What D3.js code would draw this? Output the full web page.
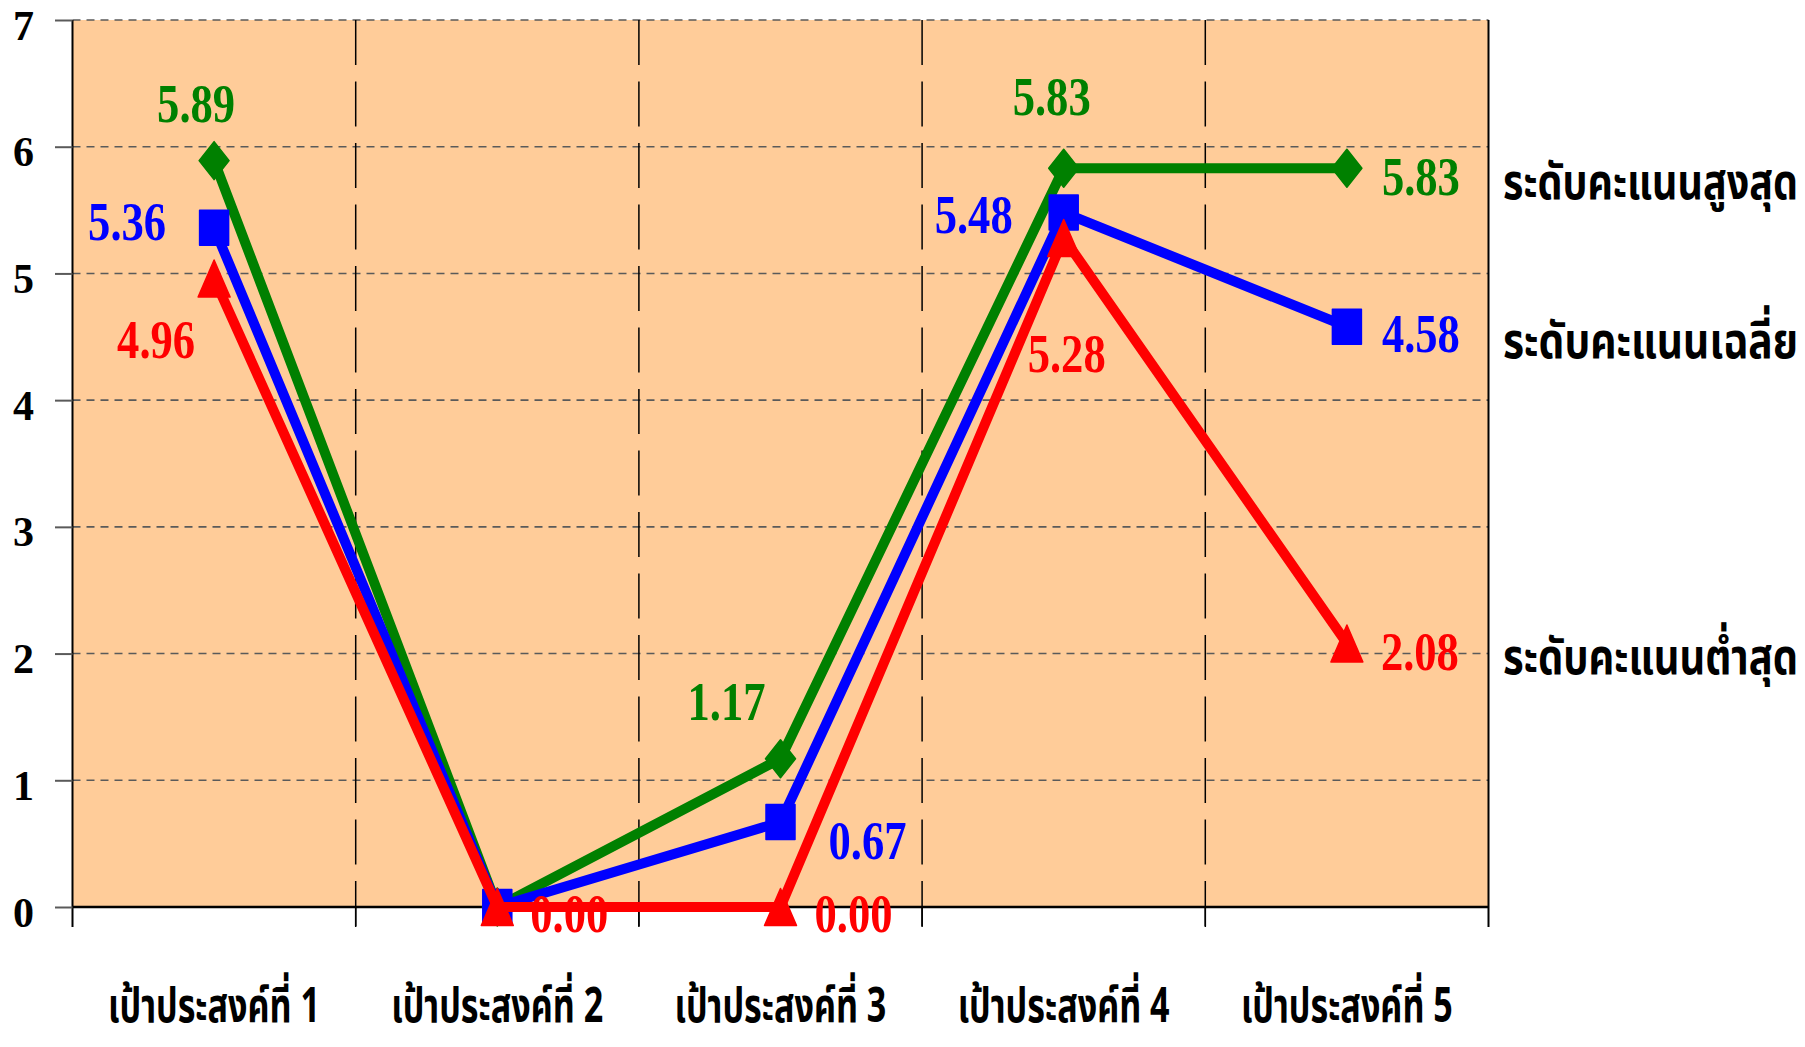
<!DOCTYPE html>
<html><head><meta charset="utf-8">
<script src="https://cdn.jsdelivr.net/npm/d3@7/dist/d3.min.js"></script>
<style>body{margin:0;background:#fff;overflow:hidden}</style>
</head><body>
<svg id="c" width="1805" height="1047"></svg>
<script>
// ---- data ----
const categories = ["เป้าประสงค์ที่ 1", "เป้าประสงค์ที่ 2", "เป้าประสงค์ที่ 3", "เป้าประสงค์ที่ 4", "เป้าประสงค์ที่ 5"];
const seriesNames = ["ระดับคะแนนสูงสุด", "ระดับคะแนนเฉลี่ย", "ระดับคะแนนต่ำสุด"];
const maxValues  = [5.89, 0.00, 1.17, 5.83, 5.83];
const meanValues = [5.36, 0.00, 0.67, 5.48, 4.58];
const minValues  = [4.96, 0.00, 0.00, 5.28, 2.08];
const yTicks = [0, 1, 2, 3, 4, 5, 6, 7];

// ---- styling / label placement (not data) ----
const colors = ["#008000", "#0000FF", "#FF0000"];
const shapes = ["diamond", "square", "triangle"];
// label offsets relative to the point: [dx (left edge), dy (baseline)], null = hidden
const labelOffsets = [
  [[-57, -39], null, [-93, -39], [-51, -53], [35, 27]],
  [[-126, 12], null, [48, 37], [-129, 20], [35, 25]],
  [[-97, 80], [33, 25], [34, 25], [-36, 134], [34, 27]]
];

const svg = d3.select("#c");
const L = 72.5, R = 1488.5, T = 20, B = 907;
const x = d3.scaleBand().domain(categories).range([L, R]).paddingInner(0).paddingOuter(0);
const y = d3.scaleLinear().domain([0, 7]).range([B, T]);
const cx = c => x(c) + x.bandwidth() / 2;

// place a text at (px,py) (start anchor, baseline) squeezed horizontally to width w
function fit(sel, w, px, py) {
  sel.each(function (d, i) {
    const n = d3.select(this);
    n.attr("x", 0).attr("y", 0).attr("dy", null).attr("text-anchor", "start");
    const nat = this.getComputedTextLength();
    const s = w / nat;
    n.attr("transform", `translate(${px(d, i)},${py(d, i)}) scale(${s},1)`);
  });
}

// plot background
svg.append("rect").attr("x", L).attr("y", T).attr("width", R - L).attr("height", B - T).attr("fill", "#FFCC99");

// horizontal gridlines
svg.append("g").selectAll("line").data(yTicks.filter(d => d > 0)).join("line")
  .attr("x1", L).attr("x2", R).attr("y1", d => y(d)).attr("y2", d => y(d))
  .attr("stroke", "#5a5a5a").attr("stroke-width", 1.6).attr("stroke-dasharray", "8,6");

// vertical gridlines at category boundaries
const bounds = categories.slice(1).map(c => x(c));
svg.append("g").selectAll("line").data(bounds).join("line")
  .attr("x1", d => d).attr("x2", d => d).attr("y1", T).attr("y2", B + 20)
  .attr("stroke", "#000").attr("stroke-width", 1.5).attr("stroke-dasharray", "45,16.5");
svg.append("g").selectAll("line").data(bounds).join("line")
  .attr("x1", d => d).attr("x2", d => d).attr("y1", B).attr("y2", B + 20)
  .attr("stroke", "#000").attr("stroke-width", 1.5);

// left & right borders, bottom axis line
svg.append("line").attr("x1", L).attr("x2", L).attr("y1", T).attr("y2", B + 20).attr("stroke", "#000").attr("stroke-width", 2);
svg.append("line").attr("x1", R).attr("x2", R).attr("y1", T).attr("y2", B + 20).attr("stroke", "#000").attr("stroke-width", 2);
svg.append("line").attr("x1", L).attr("x2", R).attr("y1", B).attr("y2", B).attr("stroke", "#000").attr("stroke-width", 2.5);

// y axis
const yAxis = svg.append("g").attr("transform", `translate(${L},0)`)
  .call(d3.axisLeft(y).tickValues(yTicks).tickSize(17.5).tickPadding(21).tickFormat(d3.format("d")));
yAxis.select(".domain").remove();
yAxis.selectAll(".tick line").attr("stroke", "#5a5a5a").attr("stroke-width", 2);
yAxis.selectAll(".tick text").attr("dy", 19)
  .attr("font-family", "'Liberation Serif','Times New Roman',serif").attr("font-weight", "bold")
  .attr("font-size", 42).attr("fill", "#000");

// x axis (category labels)
const xAxis = svg.append("g").attr("transform", `translate(0,${B})`)
  .call(d3.axisBottom(x).tickSize(0).tickPadding(0));
xAxis.select(".domain").remove();
xAxis.selectAll(".tick text")
  .attr("font-family", "'Noto Sans Thai','Noto Serif Thai','Loma','Garuda','Norasi','Noto Sans',sans-serif")
  .attr("font-weight", "bold").attr("font-size", 48).attr("fill", "#000")
  .call(fit, 212, () => -106, () => 115);

// series
const series = [maxValues, meanValues, minValues];
const line = d3.line().x((d, i) => cx(categories[i])).y(d => y(d));
function markerPath(shape) {
  if (shape === "diamond") return "M0,-19L15,0L0,19L-15,0Z";
  if (shape === "square") return "M-14.5,-17.5H14.5V17.5H-14.5Z";
  return "M0,-18.5L16,18.5H-16Z";
}
series.forEach((vals, s) => {
  const g = svg.append("g");
  g.append("path").attr("d", line(vals)).attr("fill", "none")
    .attr("stroke", colors[s]).attr("stroke-width", 10).attr("stroke-linejoin", "round");
  g.selectAll("path.m").data(vals).join("path").attr("class", "m")
    .attr("transform", (d, i) => `translate(${cx(categories[i])},${y(d)})`)
    .attr("d", markerPath(shapes[s])).attr("fill", colors[s])
    .attr("stroke", colors[s]).attr("stroke-width", 1.5).attr("stroke-linejoin", "round");
});

// data labels
series.forEach((vals, s) => {
  svg.append("g").selectAll("text").data(vals.map((v, i) => ({ v, i, o: labelOffsets[s][i] })).filter(d => d.o))
    .join("text")
    .attr("font-family", "'Liberation Serif','Times New Roman',serif").attr("font-weight", "bold")
    .attr("font-size", 54).attr("fill", colors[s])
    .text(d => d.v.toFixed(2))
    .call(fit, 78, d => cx(categories[d.i]) + d.o[0], d => y(d.v) + d.o[1]);
});

// series name labels at right
svg.append("g").selectAll("text").data(seriesNames).join("text")
  .attr("font-family", "'Noto Sans Thai','Loma','Garuda','Noto Sans',sans-serif")
  .attr("font-weight", "bold").attr("font-size", 50).attr("fill", "#000")
  .text(d => d)
  .call(fit, 295, () => 1503, (d, s) => y(series[s][series[s].length - 1]) + 31);
</script>
</body></html>
